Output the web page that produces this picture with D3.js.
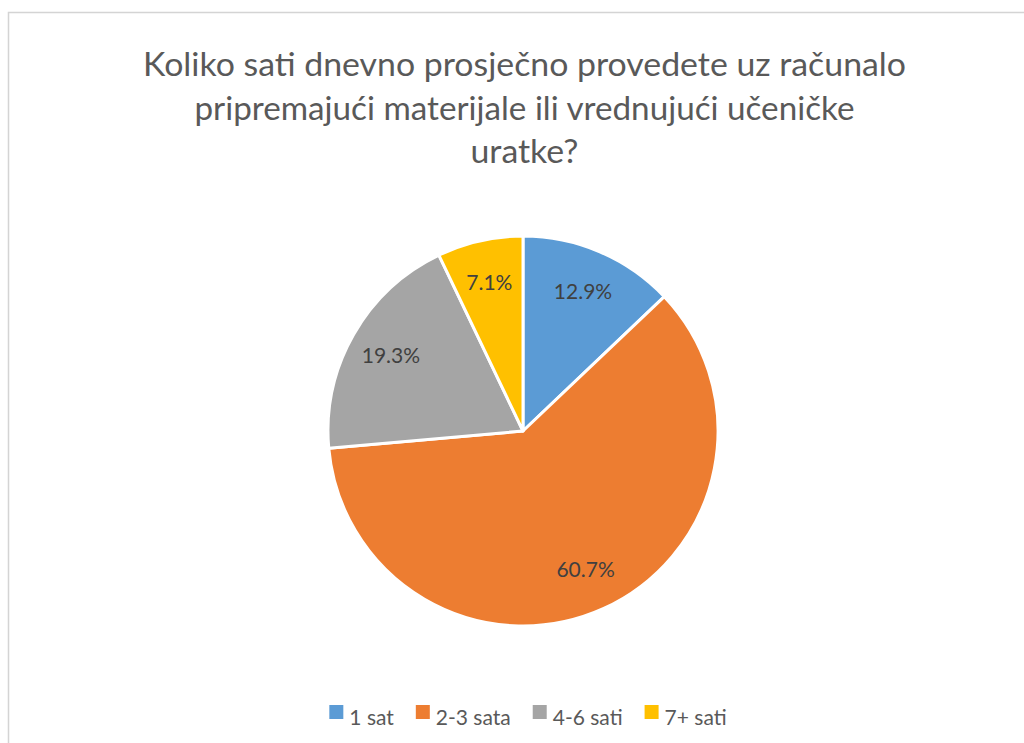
<!DOCTYPE html>
<html>
  <head>
    <meta charset="utf-8">
    <script src="https://d3js.org/d3.v7.min.js"></script>
    <style>
      body { margin: 0; background: #fff; }
      svg { display: block; font-family: Lato, "Open Sans", sans-serif; }
    </style>
  </head>
  <body>
    <svg width="1024" height="743"></svg>
  </body>
  <script>
    // data
    const categories = ['1 sat', '2-3 sata', '4-6 sati', '7+ sati'];
    const values = [12.9, 60.7, 19.3, 7.1];
    const colors = ['#5b9bd5', '#ed7d31', '#a5a5a5', '#ffc000'];
    const titleLines = [
      'Koliko sati dnevno prosječno provedete uz računalo',
      'pripremajući materijale ili vrednujući učeničke',
      'uratke?'
    ];
    const titleWidths = [763, 660, 108];

    const svg = d3.select('svg');
    const cx = 523, cy = 431, radius = 195;

    // chart frame (runs off the right and bottom edge)
    svg.append('rect')
      .attr('x', 8.5).attr('y', 12.5)
      .attr('width', 1030).attr('height', 740)
      .attr('fill', 'none')
      .attr('stroke', '#d4d4d4')
      .attr('stroke-width', 1.5);

    // title
    svg.append('g')
      .selectAll('text').data(titleLines)
      .enter().append('text')
        .attr('x', 524.5)
        .attr('y', (d, i) => 76 + i * 43.5)
        .attr('text-anchor', 'middle')
        .attr('font-size', 33)
        .attr('font-weight', 400)
        .attr('fill', '#595959')
        .attr('textLength', (d, i) => titleWidths[i])
        .attr('lengthAdjust', 'spacingAndGlyphs')
        .text(d => d);

    const pie = d3.pie().sort(null).value(d => d)(values);
    const arc = d3.arc().innerRadius(0).outerRadius(radius);
    const labelArc = d3.arc().innerRadius(radius * 0.78).outerRadius(radius * 0.78);

    const g = svg.append('g')
      .attr('transform', `translate(${cx},${cy})`);

    g.selectAll('path').data(pie)
      .enter().append('path')
        .attr('d', arc)
        .attr('fill', (d, i) => colors[i])
        .attr('stroke', '#fff')
        .attr('stroke-width', 3)
        .attr('stroke-linejoin', 'round');

    g.selectAll('text').data(pie)
      .enter().append('text')
        .attr('transform', d => `translate(${labelArc.centroid(d)})`)
        .attr('text-anchor', 'middle')
        .attr('dy', '0.35em')
        .attr('font-size', 21)
        .attr('fill', '#404040')
        .text(d => d3.format('.1f')(d.data) + '%');

    // legend
    const legend = svg.append('g');
    const items = legend.selectAll('g').data(categories)
      .enter().append('g');
    items.append('rect')
      .attr('width', 14).attr('height', 14)
      .attr('y', 705)
      .attr('fill', (d, i) => colors[i]);
    items.append('text')
      .attr('y', 725)
      .attr('font-size', 21)
      .attr('fill', '#595959')
      .text(d => d);

    let x = 0;
    items.each(function () {
      const it = d3.select(this);
      const w = it.select('text').node().getComputedTextLength();
      it.select('rect').attr('x', x);
      it.select('text').attr('x', x + 20);
      x += 20 + w + 22;
    });
    const total = x - 22;
    legend.attr('transform', `translate(${528 - total / 2},0)`);
  </script>
</html>
